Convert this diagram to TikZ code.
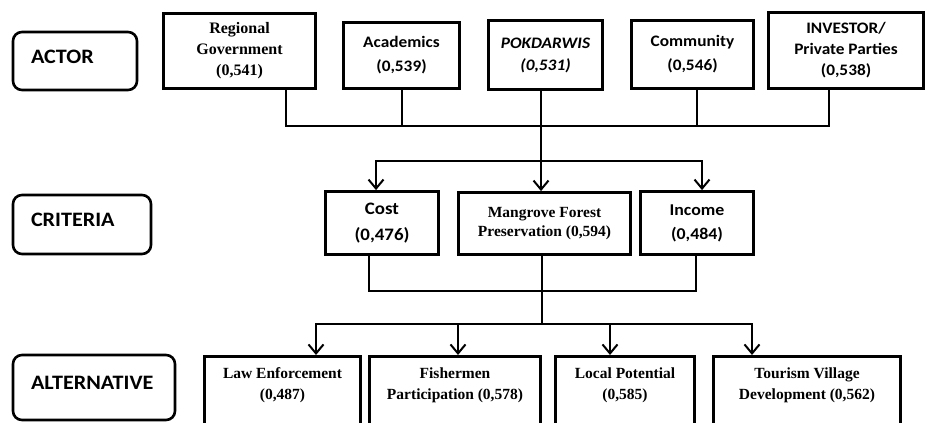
\documentclass[tikz,border=0pt]{standalone}
\usepackage{fontspec}
\setmainfont{Liberation Serif}
\setsansfont{Carlito}[FakeStretch=1.08]
\usetikzlibrary{arrows.meta}

\begin{document}
\begin{tikzpicture}[x=1pt,y=-1pt,
	box/.style={draw,line width=2.8pt,align=center,inner sep=3pt},
	sbox/.style={box,font=\sffamily\bfseries\fontsize{16}{24}\selectfont},
	rbox/.style={box,font=\bfseries\fontsize{15.5}{21}\selectfont},
	altbox/.style={rbox,anchor=north,inner ysep=5pt,text height=38pt,text depth=27pt},
	level/.style={draw,line width=2.6pt,rounded corners=9pt,inner xsep=18pt,align=left,text height=14pt,text depth=10pt,font=\sffamily\bfseries\fontsize{20.5}{22}\selectfont},
	link/.style={line width=2pt},
	arr/.style={link,-{Straight Barb[length=9pt,width=15pt]}}]
	\useasboundingbox (0,0) rectangle (927,423);
	\clip (0,0) rectangle (927,423);
	% levels
	\node[level,text width=88pt,minimum height=58pt] (actor) at (75,61) {ACTOR};
	\node[level,text width=102pt,minimum height=59pt] (criteria) at (82,224.5) {CRITERIA};
	\node[level,text width=126pt,minimum height=65pt] (alternative) at (94,387.5) {ALTERNATIVE};
	% actors
	\node[rbox,font=\bfseries\fontsize{16}{21}\selectfont,minimum width=152pt,minimum height=75pt] (gov) at (239.5,51) {Regional\\Government\\(0,541)};
	\node[sbox,minimum width=116pt,minimum height=66pt] (acad) at (401.5,55.5) {Academics\\(0,539)};
	\node[sbox,font=\sffamily\bfseries\itshape\fontsize{16}{22}\selectfont,minimum width=114pt,minimum height=69pt] (pokd) at (545.5,55) {POKDARWIS\\(0,531)};
	\node[sbox,minimum width=122pt,minimum height=68pt] (comm) at (692.5,54.5) {Community\\(0,546)};
	\node[sbox,font=\sffamily\bfseries\fontsize{16}{21}\selectfont,minimum width=155pt,minimum height=76pt] (inv) at (846,50.5) {INVESTOR/\\Private Parties\\(0,538)};
	% criteria
	\node[sbox,font=\sffamily\bfseries\fontsize{17.5}{26}\selectfont,minimum width=113pt,minimum height=63pt] (cost) at (382,223) {Cost\\(0,476)};
	\node[rbox,font=\bfseries\fontsize{15.5}{19}\selectfont,minimum width=172pt,minimum height=62pt] (mang) at (544.5,223.5) {Mangrove Forest\\Preservation (0,594)};
	\node[sbox,font=\sffamily\bfseries\fontsize{16.5}{24}\selectfont,minimum width=113pt,minimum height=63pt] (inc) at (697,223) {Income\\(0,484)};
	% alternatives
	\node[altbox,minimum width=156pt] (law) at (282.5,355) {Law Enforcement\\(0,487)};
	\node[altbox,minimum width=171pt] (fish) at (455,355) {Fishermen\\Participation (0,578)};
	\node[altbox,minimum width=139pt] (loc) at (625,355) {Local Potential\\(0,585)};
	\node[altbox,minimum width=187pt] (tour) at (807,355) {Tourism Village\\Development (0,562)};
	% connectors
	\coordinate (tb) at (541,126);
	\coordinate (cb) at (541,161);
	\coordinate (db) at (542,291);
	\coordinate (ab) at (542,324);
	\draw[link] ([xshift=46pt]gov.south) |- (tb) -| ([xshift=-17pt]inv.south);
	\draw[link] (acad.south) -- (acad.south |- tb);
	\draw[link] ([xshift=4pt]comm.south) -- ([xshift=4pt]comm.south |- tb);
	\draw[arr] ([xshift=-4.5pt]pokd.south) -- ([xshift=-3.5pt]mang.north);
	\draw[arr] (cb) -| ([xshift=-6pt]cost.north);
	\draw[arr] (cb) -| ([xshift=5pt]inc.north);
	\draw[link] ([xshift=-13pt]cost.south) |- (db) -| ([xshift=-1pt]inc.south);
	\draw[link] ([xshift=-2.5pt]mang.south) -- (ab);
	\draw[arr] (ab) -| ([xshift=33.5pt]law.north);
	\draw[arr] (ab) -| ([xshift=3pt]fish.north);
	\draw[arr] (ab) -| ([xshift=-15pt]loc.north);
	\draw[arr] (ab) -| ([xshift=-55pt]tour.north);
\end{tikzpicture}
\end{document}
